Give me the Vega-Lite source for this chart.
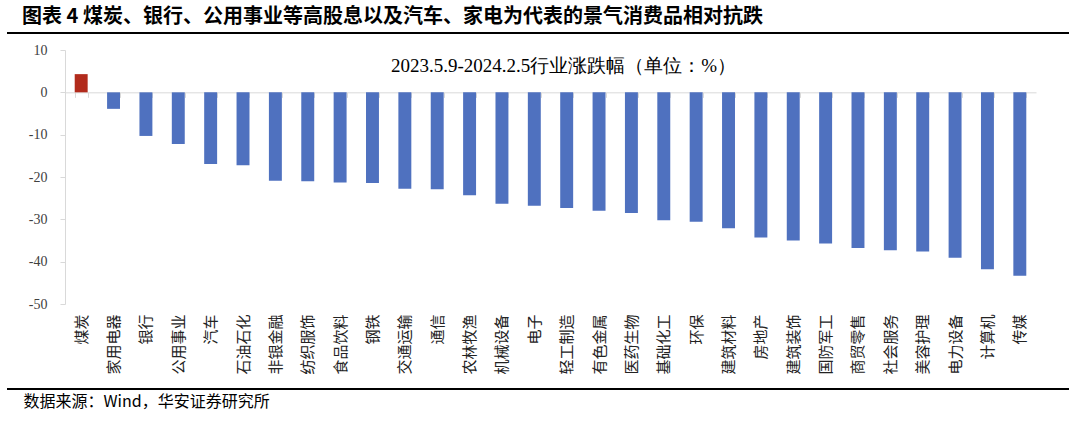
{
  "$schema": "https://vega.github.io/schema/vega-lite/v6.json",
  "width": 971,
  "height": 254,
  "autosize": {"type": "none"},
  "padding": {"left": 65, "top": 50, "right": 44, "bottom": 118},
  "background": "white",
  "config": {"view": {"stroke": null}},
  "title": {
    "text": "图表 4 煤炭、银行、公用事业等高股息以及汽车、家电为代表的景气消费品相对抗跌",
    "anchor": "start",
    "frame": "group",
    "dx": -43,
    "dy": 19.5,
    "offset": 15,
    "baseline": "middle",
    "font": "Noto Sans CJK SC",
    "fontSize": 20,
    "fontWeight": "bold",
    "color": "#000000"
  },
  "data": {
    "values": [
      {"行业": "煤炭", "涨跌幅": 4.3},
      {"行业": "家用电器", "涨跌幅": -3.9},
      {"行业": "银行", "涨跌幅": -10.3},
      {"行业": "公用事业", "涨跌幅": -12.2},
      {"行业": "汽车", "涨跌幅": -16.9},
      {"行业": "石油石化", "涨跌幅": -17.2},
      {"行业": "非银金融", "涨跌幅": -20.9},
      {"行业": "纺织服饰", "涨跌幅": -21.0},
      {"行业": "食品饮料", "涨跌幅": -21.3},
      {"行业": "钢铁", "涨跌幅": -21.4},
      {"行业": "交通运输", "涨跌幅": -22.8},
      {"行业": "通信", "涨跌幅": -22.9},
      {"行业": "农林牧渔", "涨跌幅": -24.3},
      {"行业": "机械设备", "涨跌幅": -26.3},
      {"行业": "电子", "涨跌幅": -26.8},
      {"行业": "轻工制造", "涨跌幅": -27.3},
      {"行业": "有色金属", "涨跌幅": -28.0},
      {"行业": "医药生物", "涨跌幅": -28.5},
      {"行业": "基础化工", "涨跌幅": -30.2},
      {"行业": "环保", "涨跌幅": -30.6},
      {"行业": "建筑材料", "涨跌幅": -32.1},
      {"行业": "房地产", "涨跌幅": -34.3},
      {"行业": "建筑装饰", "涨跌幅": -35.0},
      {"行业": "国防军工", "涨跌幅": -35.7},
      {"行业": "商贸零售", "涨跌幅": -36.8},
      {"行业": "社会服务", "涨跌幅": -37.3},
      {"行业": "美容护理", "涨跌幅": -37.6},
      {"行业": "电力设备", "涨跌幅": -39.1},
      {"行业": "计算机", "涨跌幅": -41.8},
      {"行业": "传媒", "涨跌幅": -43.3}
    ]
  },
  "layer": [
    {
      "mark": {"type": "bar"},
      "encoding": {
        "x": {
          "field": "行业",
          "type": "nominal",
          "sort": null,
          "scale": {"paddingInner": 0.6, "paddingOuter": 0.3},
          "axis": {
            "offset": -211.67,
            "domain": true,
            "domainColor": "#d9d9d9",
            "domainWidth": 1,
            "ticks": true,
            "tickBand": "extent",
            "tickColor": "#d9d9d9",
            "tickSize": 5,
            "labelAngle": -90,
            "labelPadding": 216.7,
            "labelFont": "Noto Sans CJK SC",
            "labelFontSize": 15,
            "labelColor": "#222222",
            "labelOverlap": false,
            "labelLimit": 200,
            "grid": false,
            "title": "数据来源：Wind，华安证券研究所",
            "titleFont": "Noto Sans CJK SC",
            "titleFontSize": 16,
            "titleFontWeight": "normal",
            "titleColor": "#000000",
            "titleAlign": "left",
            "titleAnchor": "start",
            "titleBaseline": "middle",
            "titleX": -42,
            "titleY": 308.7
          }
        },
        "y": {
          "field": "涨跌幅",
          "type": "quantitative",
          "scale": {"domain": [-50, 10], "nice": false, "zero": false},
          "axis": {
            "values": [-50, -40, -30, -20, -10, 0, 10],
            "labelExpr": "'' + datum.value",
            "domainColor": "#d9d9d9",
            "tickColor": "#d9d9d9",
            "tickSize": 5,
            "labelFont": "Liberation Serif",
            "labelFontSize": 14,
            "labelColor": "#404040",
            "labelPadding": 13,
            "grid": false,
            "title": "2023.5.9-2024.2.5行业涨跌幅（单位：%）",
            "titleAngle": 0,
            "titleX": 498,
            "titleY": 15,
            "titleAlign": "center",
            "titleBaseline": "middle",
            "titleFont": "Liberation Serif",
            "titleFontSize": 19,
            "titleFontWeight": "normal",
            "titleColor": "#000000"
          }
        },
        "color": {
          "condition": {"test": "datum['涨跌幅'] > 0", "value": "#B22B1C"},
          "value": "#4F71BF"
        }
      }
    },
    {
      "mark": {"type": "rule", "color": "#000000", "strokeWidth": 2},
      "encoding": {
        "y": {"datum": 14},
        "x": {"value": -58},
        "x2": {"value": 1004}
      }
    },
    {
      "mark": {"type": "rule", "color": "#000000", "strokeWidth": 2},
      "encoding": {
        "y": {"datum": -70.1},
        "x": {"value": -58},
        "x2": {"value": 1004}
      }
    }
  ]
}
